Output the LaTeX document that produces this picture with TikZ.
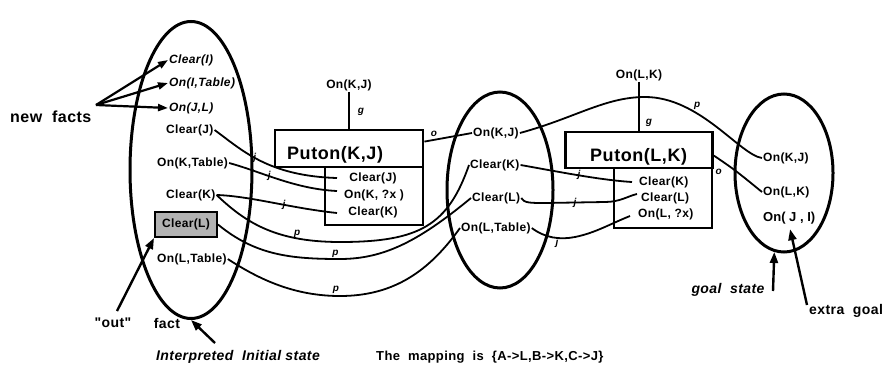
\documentclass[tikz,border=0pt]{standalone}
\usepackage{fontspec}
\setmainfont{Liberation Sans}
\newfontfamily\labfont[LetterSpace=3]{Liberation Sans}
\usetikzlibrary{shapes.geometric,arrows.meta,calc}
\begin{document}
\begin{tikzpicture}[x=1pt,y=-1pt,
  fact/.style={inner sep=1pt, font=\labfont\bfseries\fontsize{12}{12}\selectfont},
  ifact/.style={inner sep=1pt, font=\labfont\bfseries\itshape\fontsize{12}{12}\selectfont},
  bignote/.style={inner sep=1pt, font=\labfont\bfseries\fontsize{14}{14}\selectfont},
  ibignote/.style={inner sep=1pt, font=\labfont\bfseries\itshape\fontsize{14}{14}\selectfont},
  optitle/.style={inner sep=0pt, font=\labfont\bfseries\fontsize{18}{18}\selectfont},
  statering/.style={draw, ellipse, line width=3pt, inner sep=0pt},
  opbox/.style={draw, rectangle, line width=2.8pt, inner sep=0pt},
  link/.style={line width=1.8pt},
  tag/.style={inner sep=0pt, font=\bfseries\itshape\fontsize{10}{10}\selectfont},
  bigarrow/.style={line width=2.4pt, -{Triangle[length=11pt,width=8pt]}},
  factarrow/.style={line width=2.2pt, -{Triangle[length=10pt,width=7pt]}},
]
\useasboundingbox (0,0) rectangle (893,370);

% state ellipses
\node[statering, minimum width=122pt, minimum height=297pt] (le) at (191,170) {};
\node[statering, minimum width=106pt, minimum height=196pt] (me) at (500,190) {};
\node[statering, minimum width=98pt, minimum height=158pt] (re) at (784,173) {};

% initial state facts
\node[ifact, anchor=west] (cI) at (168,60) {Clear(I)};
\node[ifact, anchor=west] (oIT) at (168,83) {On(I,Table)};
\node[ifact, anchor=west] (oJL) at (168,108) {On(J,L)};
\node[fact, anchor=west] (cJ) at (165,130) {Clear(J)};
\node[fact, anchor=west] (oKT) at (156,163) {On(K,Table)};
\node[fact, anchor=west] (cK) at (165,195) {Clear(K)};
\node[fact, draw, line width=2pt, fill=black!30, minimum width=62pt, minimum height=25pt] (cL) at (186,224.5) {Clear(L)};
\node[fact, anchor=west] (oLT) at (156,259) {On(L,Table)};

% notes
\node[inner sep=1pt, font=\labfont\bfseries\fontsize{16}{16}\selectfont, anchor=west] (nfacts) at (9,117) {new\ \ facts};
\coordinate (nf) at (96,105);
\node[bignote] (outq) at (113,323) {"out"};
\node[bignote] (factw) at (167,323) {fact};
\coordinate (otail) at (117,311);
\node[ibignote] (interp) at (238,357) {Interpreted\ \ Initial state};
\coordinate (itail) at (215,343);
\node[inner sep=1pt, font=\labfont\bfseries\fontsize{13}{13}\selectfont, anchor=west] (mapping) at (375,357) {The\ \ mapping\ \ is\ \ \{A->L,B->K,C->J\}};

% operator 1
\node[opbox, minimum width=148pt, minimum height=37pt] (op1) at (349,148.5) {};
\node[optitle, anchor=west] (op1t) at (287,155) {Puton(K,J)};
\node[opbox, minimum width=98pt, minimum height=58pt] (pre1) at (374,196) {};
\node[fact] (p1a) at (373,178) {Clear(J)};
\node[fact] (p1b) at (374,195) {On(K, ?x )};
\node[fact] (p1c) at (373,212) {Clear(K)};
\coordinate (s1a) at (337,178);
\coordinate (s1b) at (337,191);
\coordinate (s1c) at (337,213);
\node[fact] (g1) at (349,85) {On(K,J)};

% middle state facts
\node[fact, anchor=west] (mKJ) at (472,133) {On(K,J)};
\node[fact, anchor=west] (mcK) at (469,165) {Clear(K)};
\node[fact, anchor=west] (mcL) at (471,198) {Clear(L)};
\node[fact, anchor=west] (mLT) at (460,228) {On(L,Table)};

% operator 2
\node[opbox, minimum width=147pt, minimum height=36pt] (op2) at (639,150) {};
\node[optitle, anchor=west] (op2t) at (590,157) {Puton(L,K)};
\node[opbox, minimum width=98pt, minimum height=60pt] (pre2) at (663,198) {};
\node[fact, anchor=west] (p2a) at (638,182) {Clear(K)};
\node[fact, anchor=west] (p2b) at (640,198) {Clear(L)};
\node[fact, anchor=west] (p2c) at (637,214) {On(L, ?x)};
\coordinate (s2a) at (632,182);
\coordinate (s2b) at (637,194);
\coordinate (s2c) at (630,216);
\node[fact] (g2) at (639,75) {On(L,K)};

% goal state facts
\node[fact, anchor=west] (rKJ) at (762,158) {On(K,J)};
\node[fact, anchor=west] (rLK) at (762,192) {On(L,K)};
\node[inner sep=1pt, font=\bfseries\fontsize{13}{13}\selectfont, anchor=west] (rJI) at (762,218) {On( J , I)};
\node[ibignote] (goal) at (728,290) {goal\ \ state};
\coordinate (gtail) at (773,291);
\node[bignote, anchor=west] (extra) at (808,311) {extra\ \ goal};
\coordinate (etail) at (807,305);

% arrows
\draw[factarrow] (nf) -- (cI.west);
\draw[factarrow] (nf) -- (oIT.west);
\draw[factarrow] (nf) -- (oJL.west);
\draw[bigarrow] (otail) -- (cL.south west);
\draw[bigarrow] (itail) -- (le.south);
\draw[bigarrow] (gtail) -- (re.-97);
\draw[bigarrow, shorten >=4pt] (etail) -- (rJI.south);

% operator 1 links
\draw[link] (g1) -- (op1) node[tag, pos=0.55, right=8pt]{g};
\draw[link] ($(op1.north east)+(0,13)$) -- (mKJ.west) node[tag, pos=0.2, above=2pt]{o};
\draw[link] (cJ.east) .. controls (242,150) and (268,176) .. (s1a) node[tag, pos=0.45]{j};
\draw[link] (oKT.east) .. controls (262,172) and (295,189) .. (s1b) node[tag, pos=0.4]{j};
\draw[link] (cK.east) .. controls (250,196) and (290,208) .. (s1c) node[tag, pos=0.6]{j};
\draw[link] (cK.east) .. controls (245,222) and (275,242) .. (340,242) node[tag, pos=0.75, above=0pt]{p}
  .. controls (420,242) and (448,225) .. (mcK.west);
\draw[link] (cL.east) .. controls (255,255) and (290,259) .. (340,259) node[tag, pos=0.97, above=1pt]{p}
  .. controls (385,259) and (420,240) .. (mcL.west);
\draw[link] (oLT.east) .. controls (260,280) and (295,296) .. (340,296) node[tag, pos=0.97, above=1pt]{p}
  .. controls (395,296) and (430,270) .. (mLT.west);

% operator 2 links
\draw[link] (g2) -- (op2) node[tag, pos=0.85, right=6pt]{g};
\draw[link] ($(op2.north east)+(0,25)$) .. controls (735,170) .. (rLK.west) node[tag, pos=0.25, below left=4pt]{o};
\draw[link] (mcK.east) .. controls (560,172) and (600,180) .. (s2a) node[tag, pos=0.5]{j};
\draw[link] (mcL.east) .. controls (524,203) and (530,203) .. (545,203) -- (605,202) node[tag, pos=0.5]{j}
  .. controls (620,202) and (628,196) .. (s2b);
\draw[link] (mLT.east) .. controls (545,238) and (560,240) .. (575,237) node[tag, pos=0.6, below=-1pt]{j}
  .. controls (595,233) and (610,224) .. (s2c);
\draw[link] (mKJ.east) .. controls (575,118) and (605,97) .. (645,97)
  .. controls (700,97) and (740,155) .. (rKJ.west) node[tag, pos=0.35, above=3pt]{p};
\end{tikzpicture}
\end{document}
